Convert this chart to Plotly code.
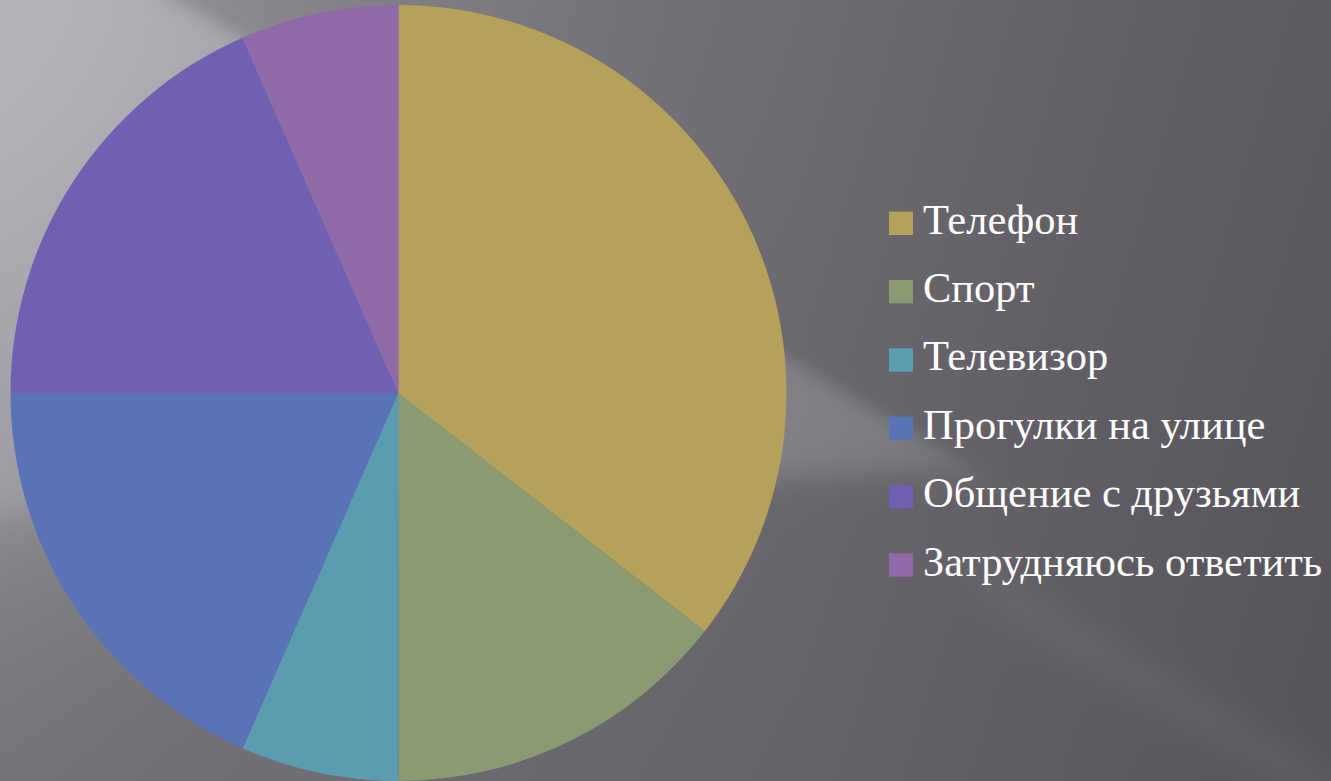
import base64
import struct
import zlib

import numpy as np
import plotly.graph_objects as go

# Survey: how pupils spend their free time
labels = ["Телефон", "Спорт", "Телевизор", "Прогулки на улице",
          "Общение с друзьями", "Затрудняюсь ответить"]
values = [27, 11, 5, 14, 14, 5]
colors = ["#B5A25A", "#8A9A72", "#5C9CB0", "#5874B6", "#715FB2", "#8E6AA6"]

W, H = 1331, 781
TOP = 5  # top margin in px
SERIF = "Liberation Serif"


def to_png_data_uri(rgb):
    """Encode an HxWx3 uint8 array as a PNG data URI."""
    h, w, _ = rgb.shape
    raw = b"".join(b"\x00" + rgb[i].tobytes() for i in range(h))

    def chunk(tag, data):
        c = struct.pack(">I", len(data)) + tag + data
        return c + struct.pack(">I", zlib.crc32(tag + data) & 0xFFFFFFFF)

    png = (b"\x89PNG\r\n\x1a\n"
           + chunk(b"IHDR", struct.pack(">IIBBBBB", w, h, 8, 2, 0, 0, 0))
           + chunk(b"IDAT", zlib.compress(raw, 9))
           + chunk(b"IEND", b""))
    return "data:image/png;base64," + base64.b64encode(png).decode()


def sig(t):
    return 1.0 / (1.0 + np.exp(-t))


def background():
    # slide-style grey backdrop: dark to the right, glow and light rays from top-left
    bw, bh = 666, 391
    xs = (np.arange(bw) + 0.5) * W / bw
    ys = (np.arange(bh) + 0.5) * H / bh
    X, Y = np.meshgrid(xs, ys)

    base = np.interp(X, [0, 400, 800, 1331], [124, 116, 109, 93]) - 7 * Y / H
    glow = 24 * np.exp(-((X / 520) ** 2 + (Y / 420) ** 2))

    # main ray: upper edge (177,0)->(785,358), lower edge (0,512)->(940,470)
    yu = (X - 177) * (358 / 608)
    yl = 512 - X * (42 / 940)
    inside = sig((Y - yu) / 6) * sig((yl - Y) / 10)
    strength = np.clip(34 - 9 * X / 800, 0, None)
    ray = inside * strength

    # soft light spill just under the main ray on the left
    below = np.clip(Y - yl, 0, None)
    spill = 18 * sig((Y - yl) / 10) * np.exp(-below / 110) * np.clip(1 - X / 450, 0, 1)

    # faint ray on the lower right
    d = (Y - (595 + (X - 1000) * 0.6)) / np.sqrt(1 + 0.36)
    ray2 = 7 * np.exp(-(d / 28) ** 2) * sig((X - 980) / 20)

    v = base + glow + ray + spill + ray2
    rgb = np.stack([v, v - 2.5, v + 4], axis=-1)
    return np.clip(rgb, 0, 255).astype(np.uint8)


fig = go.Figure()
fig.add_trace(go.Pie(
    labels=labels,
    values=values,
    marker=dict(colors=colors, line=dict(width=0)),
    sort=False,
    direction="clockwise",
    rotation=0,
    textinfo="none",
    hoverinfo="label+percent",
    showlegend=False,
    domain=dict(x=[10.5 / W, 786.5 / W], y=[0, 1]),
))


def py(y_px):
    return (H - y_px) / (H - TOP)


# legend drawn as coloured squares with serif captions
shapes = []
annotations = []
for i, (lab, col) in enumerate(zip(labels, colors)):
    cy = 223.3 + 68.35 * i
    shapes.append(dict(type="rect", xref="paper", yref="paper",
                       x0=889 / W, x1=913 / W, y0=py(cy + 11.7), y1=py(cy - 11.7),
                       fillcolor=col, line=dict(width=0)))
    annotations.append(dict(text=lab, xref="paper", yref="paper",
                            x=921 / W, y=py(cy - 4), xanchor="left", yanchor="middle",
                            showarrow=False,
                            font=dict(family=SERIF, size=42.5, color="#FFFFFF")))

fig.update_layout(
    width=W, height=H,
    margin=dict(l=0, r=0, t=TOP, b=0),
    paper_bgcolor="#7a787e",
    font=dict(family=SERIF),
    shapes=shapes,
    annotations=annotations,
    images=[dict(source=to_png_data_uri(background()), xref="paper", yref="paper",
                 x=0, y=1 + TOP / (H - TOP), sizex=1, sizey=H / (H - TOP),
                 xanchor="left", yanchor="top", sizing="stretch", layer="below")],
)

fig.write_html("out.html")
